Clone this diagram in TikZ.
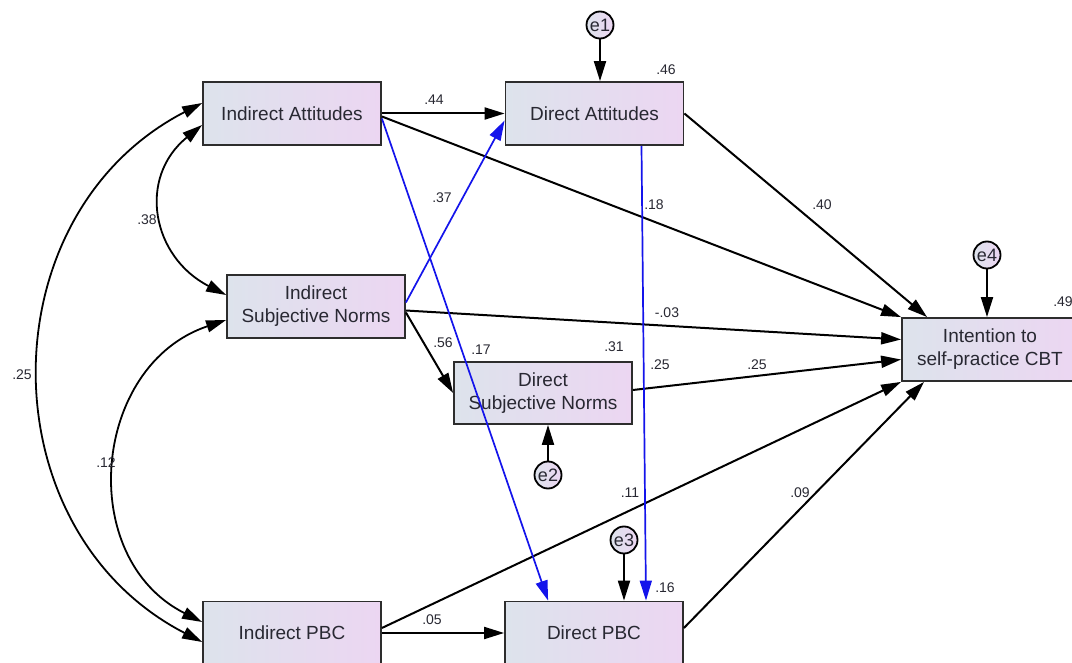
\documentclass[tikz,border=0pt]{standalone}
\usepackage{fontspec}
\setmainfont{Liberation Sans}
\usetikzlibrary{arrows.meta,calc}

\definecolor{boxleft}{RGB}{221,227,236}
\definecolor{boxright}{RGB}{236,214,242}
\definecolor{edge}{RGB}{45,45,45}
\definecolor{ink}{RGB}{40,40,50}
\definecolor{pathblue}{RGB}{20,20,235}

\begin{document}
\begin{tikzpicture}[x=1pt,y=-1pt,
  var/.style={draw=edge, line width=1.8pt, left color=boxleft, right color=boxright,
    minimum width=178pt, minimum height=63pt, inner sep=0pt, align=center,
    text=ink, font=\fontsize{19}{23}\selectfont},
  err/.style={circle, draw=black, line width=1.8pt, left color=boxleft, right color=boxright,
    minimum size=27pt, inner sep=0pt, text=ink, font=\fontsize{18}{18}\selectfont},
  tip/.tip={Triangle[length=20pt,width=12pt]},
  regpath/.style={draw=black, line width=2pt, -tip},
  bluepath/.style={draw=pathblue, line width=1.7pt, -tip},
  cov/.style={draw=black, line width=1.8pt, tip-tip},
  coef/.style={font=\fontsize{14}{14}\selectfont, text=ink, inner sep=0pt}]

\fill[white] (0,0) rectangle (1072,663);
\useasboundingbox (0,0) rectangle (1072,663);

% observed variables
\node[var] (ia)   at (292,113.5) {Indirect Attitudes};
\node[var] (da)   at (594.5,113.5) {Direct Attitudes};
\node[var] (isn)  at (316,306.5) {Indirect\\Subjective Norms};
\node[var, minimum height=62pt] (dsn) at (543,393) {Direct\\Subjective Norms};
\node[var, minimum width=176pt] (int) at (990,349.5) {Intention to\\self-practice CBT};
\node[var] (ipbc) at (292,633) {Indirect PBC};
\node[var] (dpbc) at (594,633) {Direct PBC};

% residuals
\node[err] (e1) at (600,25) {e1};
\node[err] (e2) at (548,475) {e2};
\node[err] (e3) at (624,540) {e3};
\node[err] (e4) at (987,255) {e4};

% residual paths
\draw[regpath] (e1) -- (e1 |- da.north);
\draw[regpath] (e4) -- (e4 |- int.north);
\draw[regpath] (e2) -- (e2 |- dsn.south);
\draw[regpath] (e3) -- (e3 |- dpbc.north);

% correlations between the indirect measures
\draw[cov] ($(ia.west)+(0,11.5)$) .. controls (137,178) and (152,257) .. ($(isn.west)+(0,-11.5)$);
\draw[cov] ($(isn.west)+(0,13.5)$) .. controls (92,365) and (75,558) .. ($(ipbc.west)+(0,-11)$);
\draw[cov] ($(ia.west)+(0,-10.5)$) .. controls (-14,214.6) and (-14,530.4) .. ($(ipbc.west)+(0,9)$);

% regression paths
\draw[regpath] (ia.east) -- (da.west);
\draw[regpath] ($(ia.east)+(0,3)$) -- (int.north west);
\draw[regpath] (da.east) -- ($(int.north west)+(26,0)$);
\draw[regpath] ($(isn.east)+(0,4)$) -- ($(int.west)+(0,-10)$);
\draw[regpath] ($(isn.east)+(0,6)$) -- (dsn.west);
\draw[regpath] ($(dsn.east)+(0,-3)$) -- ($(int.west)+(0,10)$);
\draw[regpath] ($(ipbc.east)+(0,-5)$) -- (int.south west);
\draw[regpath] (ipbc.east) -- (dpbc.west);
\draw[regpath] ($(dpbc.east)+(0,-5)$) -- ($(int.south west)+(23,0)$);

% cross paths
\draw[bluepath] ($(isn.east)+(0,-4)$) -- ($(da.west)+(0,7)$);
\draw[bluepath] ($(ia.east)+(0,5)$) -- ($(dpbc.north west)+(44,0)$);
\draw[bluepath] ($(da.south)+(47,0)$) -- ($(dpbc.north)+(52,0)$);

% estimates
\node[coef] (r46)  at (666,70)  {.46};
\node[coef] (r31)  at (614,347) {.31};
\node[coef] (r16)  at (665,588) {.16};
\node[coef] (r49)  at (1063,302) {.49};
\node[coef] (b44)  at (434,100) {.44};
\node[coef] (b18)  at (654,205) {.18};
\node[coef] (b40)  at (822,205) {.40};
\node[coef] (b37)  at (442,198) {.37};
\node[coef] (bm03) at (667,313) {-.03};
\node[coef] (b56)  at (443,343) {.56};
\node[coef] (b17)  at (481,350) {.17};
\node[coef] (b25a) at (660,365) {.25};
\node[coef] (b25b) at (757,365) {.25};
\node[coef] (b11)  at (630,493) {.11};
\node[coef] (b09)  at (800,493) {.09};
\node[coef] (b05)  at (432,620) {.05};
\node[coef] (c38)  at (147,220) {.38};
\node[coef] (c12)  at (106,463) {.12};
\node[coef] (c25)  at (22,375)  {.25};

\end{tikzpicture}
\end{document}
